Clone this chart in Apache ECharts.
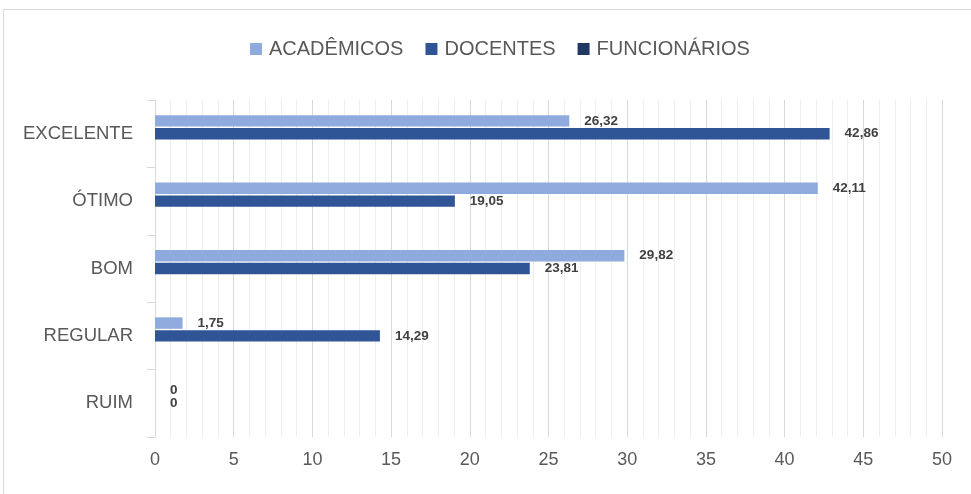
<!DOCTYPE html>
<html>
<head>
<meta charset="utf-8">
<script src="https://cdn.jsdelivr.net/npm/echarts@6/dist/echarts.min.js"></script>
<style>
  html, body { margin: 0; padding: 0; background: #fff; overflow: hidden; }
  #frame { position: absolute; left: 3px; top: 9px; width: 990px; height: 520px; border: 1px solid #d9d9d9; }
  #chart_1 { position: absolute; left: 0; top: 0; width: 971px; height: 494px; }
</style>
</head>
<body>
<div id="frame"></div>
<div id="chart_1"></div>
<script>
var categorias = ['EXCELENTE', 'ÓTIMO', 'BOM', 'REGULAR', 'RUIM'];
var academicos = [26.32, 42.11, 29.82, 1.75, 0];
var docentes = [42.86, 19.05, 23.81, 14.29, 0];
var funcionarios = [null, null, null, null, null];

var dom = document.getElementById("chart_1");
var myChart = echarts.init(dom);

var rotulo = {
    show: true,
    position: 'right',
    distance: 15,
    color: '#404040',
    fontFamily: 'Liberation Sans',
    fontWeight: 'bold',
    fontSize: 13.5,
    formatter: function (p) {
        return p.value == null ? '' : String(p.value).replace('.', ',');
    }
};

var option = {
    animation: false,
    textStyle: { fontFamily: 'Liberation Sans' },
    legend: {
        left: 245,
        top: 34,
        itemWidth: 12,
        itemHeight: 12,
        itemGap: 22,
        icon: 'rect',
        textStyle: { fontSize: 20, color: '#595959', padding: [0, 0, 0, 2] },
        data: ['ACADÊMICOS', 'DOCENTES', 'FUNCIONÁRIOS']
    },
    grid: { left: 155, right: 29, top: 100, bottom: 57, containLabel: false },
    xAxis: {
        type: 'value',
        min: 0,
        max: 50,
        interval: 5,
        axisLine: { show: false },
        axisTick: { show: false },
        axisLabel: { color: '#595959', fontSize: 18, margin: 14 },
        splitLine: { show: true, lineStyle: { color: '#d9d9d9', width: 1 } },
        minorTick: { show: false, splitNumber: 5 },
        minorSplitLine: { show: true, lineStyle: { color: '#eeeeee', width: 1 } }
    },
    yAxis: {
        type: 'category',
        inverse: true,
        data: categorias,
        axisLine: { show: true, lineStyle: { color: '#d9d9d9', width: 1 } },
        axisTick: { show: true, length: 8, lineStyle: { color: '#d9d9d9' } },
        axisLabel: { color: '#595959', fontSize: 18.5, margin: 22 }
    },
    series: [
        {
            name: 'ACADÊMICOS',
            type: 'bar',
            data: academicos,
            itemStyle: { color: '#8faadc' },
            barGap: '12%',
            barCategoryGap: '45%',
            label: rotulo
        },
        {
            name: 'DOCENTES',
            type: 'bar',
            data: docentes,
            itemStyle: { color: '#2f5597' },
            label: rotulo
        },
        {
            name: 'FUNCIONÁRIOS',
            type: 'bar',
            data: funcionarios,
            itemStyle: { color: '#203864' },
            label: rotulo
        }
    ]
};

myChart.setOption(option, true);
</script>
</body>
</html>
